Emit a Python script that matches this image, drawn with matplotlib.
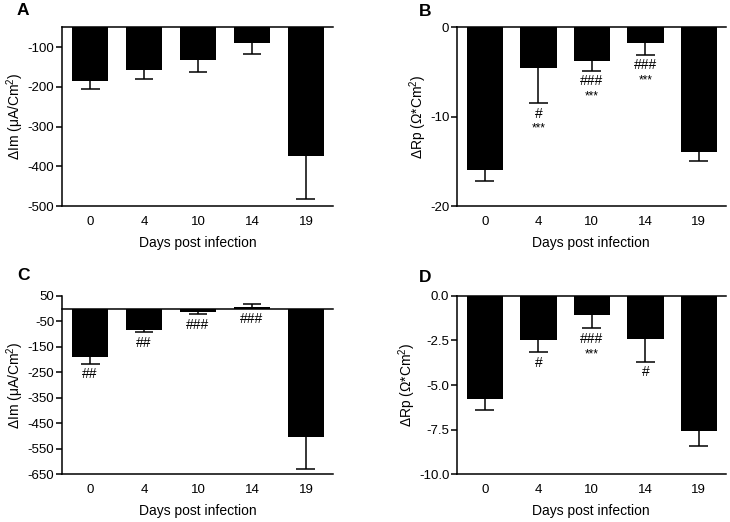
import numpy as np
import matplotlib
matplotlib.use('Agg')
import matplotlib.pyplot as plt

plt.rcParams['font.family'] = ['Liberation Sans', 'DejaVu Sans']
plt.rcParams['mathtext.fontset'] = 'custom'
plt.rcParams['mathtext.rm'] = 'Liberation Sans'
plt.rcParams['mathtext.it'] = 'Liberation Sans:italic'

# data
days = ['0', '4', '10', '14', '19']

im_a = [-186, -158, -132, -90, -373]
im_a_err = [19, 22, 30, 28, 108]

rp_b = [-16.0, -4.6, -3.8, -1.8, -14.0]
rp_b_err = [1.2, 3.9, 1.1, 1.3, 0.9]

im_c = [-190, -82, -14, 6, -503]
im_c_err = [27, 11, 8, 14, 126]

rp_d = [-5.78, -2.50, -1.08, -2.41, -7.58]
rp_d_err = [0.64, 0.67, 0.75, 1.29, 0.82]

# significance marks (hash line, star line)
marks_a = [('', ''), ('', ''), ('', ''), ('', ''), ('', '')]
marks_b = [('', ''), ('#', '***'), ('###', '***'), ('###', '***'), ('', '')]
marks_c = [('##', ''), ('##', ''), ('###', ''), ('###', ''), ('', '')]
marks_d = [('', ''), ('#', ''), ('###', '***'), ('#', ''), ('', '')]


def draw_panel(ax, vals, errs, marks, ylim, yticks, yticklabels, ylabel):
    x = np.arange(len(vals))
    vals = np.array(vals, dtype=float)
    errs = np.array(errs, dtype=float)
    # error bars point away from zero, only one cap at the far end
    ends = np.where(vals < 0, vals - errs, vals + errs)
    ax.vlines(x, vals, ends, color='black', lw=1.1, zorder=1)
    ax.hlines(ends, x - 0.175, x + 0.175, color='black', lw=1.1, zorder=1)
    ax.bar(x, vals, width=0.68, color='black', zorder=2)
    ax.axhline(min(0, ylim[1]), color='black', lw=1.1, zorder=3, clip_on=False)
    for i, (h, s) in enumerate(marks):
        anchor = min(ends[i], 0)
        if h:
            ax.annotate(h, (x[i], anchor), xytext=(0, -7.5), textcoords='offset points',
                        ha='center', va='center', fontsize=10)
        if s:
            ax.annotate(s, (x[i], anchor), xytext=(0, -18.5), textcoords='offset points',
                        ha='center', va='center', fontsize=8.5)
    ax.set_xlim(-0.52, 4.5)
    ax.set_ylim(ylim)
    ax.set_yticks(yticks)
    ax.set_yticklabels(yticklabels)
    ax.set_xticks(x)
    ax.set_xticklabels(days)
    ax.spines['top'].set_visible(False)
    ax.spines['right'].set_visible(False)
    for sp in ['left', 'bottom']:
        ax.spines[sp].set_linewidth(1.1)
    ax.tick_params(axis='y', direction='out', length=4, width=1.1, labelsize=9.5, pad=1.5)
    ax.tick_params(axis='x', length=0, labelsize=9.5, pad=7)
    ax.set_xlabel('Days post infection', fontsize=10, labelpad=6)
    ax.set_ylabel(ylabel, fontsize=10, labelpad=1)


fig = plt.figure(figsize=(7.3, 5.22), dpi=100)
axA = fig.add_axes([0.085, 0.605, 0.371, 0.343])
axB = fig.add_axes([0.626, 0.605, 0.368, 0.343])
axC = fig.add_axes([0.085, 0.0914, 0.371, 0.3416])
axD = fig.add_axes([0.626, 0.0914, 0.368, 0.3421])

draw_panel(axA, im_a, im_a_err, marks_a, (-500, -50),
           [-500, -400, -300, -200, -100], ['-500', '-400', '-300', '-200', '-100'],
           'ΔIm (μA/Cm$^2$)')
draw_panel(axB, rp_b, rp_b_err, marks_b, (-20, 0),
           [-20, -10, 0], ['-20', '-10', '0'],
           'ΔRp (Ω*Cm$^2$)')
draw_panel(axC, im_c, im_c_err, marks_c, (-650, 50),
           [-650, -550, -450, -350, -250, -150, -50, 50],
           ['-650', '-550', '-450', '-350', '-250', '-150', '-50', '50'],
           'ΔIm (μA/Cm$^2$)')
draw_panel(axD, rp_d, rp_d_err, marks_d, (-10, 0),
           [-10, -7.5, -5, -2.5, 0], ['-10.0', '-7.5', '-5.0', '-2.5', '0.0'],
           'ΔRp (Ω*Cm$^2$)')

for lbl, xx, yy in [('A', 23, 10.7), ('B', 425, 12), ('C', 23, 275), ('D', 425, 277)]:
    fig.text(xx / 730, 1 - yy / 522, lbl, fontsize=12.5, fontweight='bold',
             ha='center', va='center')

fig.savefig('out.png', dpi=100)
